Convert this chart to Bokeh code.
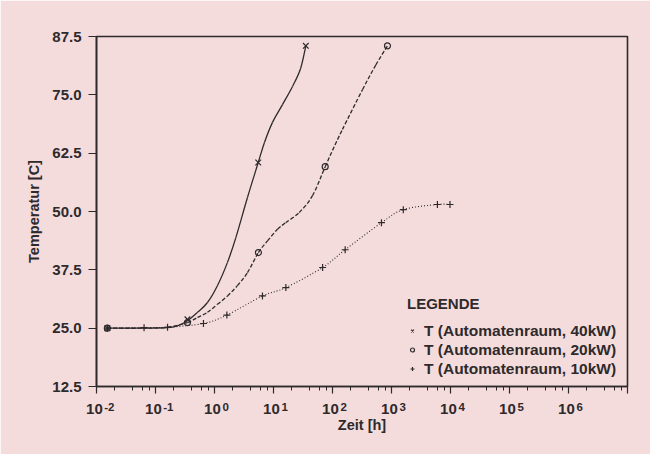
import numpy as np
from bokeh.plotting import figure
from bokeh.models import (FixedTicker, PrintfTickFormatter, Legend, LegendItem,
                          Range1d, ColumnDataSource, LogAxis)
from bokeh.embed import file_html
from bokeh.resources import INLINE

# ---------------- data ----------------
x_ticks = [1e-2, 1e-1, 1e0, 1e1, 1e2, 1e3, 1e4, 1e5, 1e6, 1e7]
x_tick_base = ["10", "10", "10", "10", "10", "10", "10", "10", "10", ""]
x_tick_exp = ["-2", "-1", "0", "1", "2", "3", "4", "5", "6", ""]
x_minor_mult = [2, 4, 6, 8]
y_ticks = [12.5, 25.0, 37.5, 50.0, 62.5, 75.0, 87.5]

labels = ["T (Automatenraum, 40kW)", "T (Automatenraum, 20kW)", "T (Automatenraum, 10kW)"]

# markers
t40_pts = [0.0153, 0.348, 5.51, 35.3]
T40_pts = [25.0, 26.9, 60.5, 85.5]
t20_pts = [0.0153, 0.348, 5.55, 75.2, 855]
T20_pts = [25.0, 26.2, 41.2, 59.6, 85.5]
t10_pts = [0.0153, 0.064, 0.16, 0.65, 1.62, 6.5, 16.2, 68, 164, 676, 1585, 6000, 9800]
T10_pts = [25.0, 25.1, 25.2, 26.0, 27.8, 31.9, 33.7, 38.0, 41.8, 47.6, 50.4, 51.5, 51.5]

# traced curves
t40_line = [0.0153, 0.060, 0.16, 0.236, 0.348, 0.515, 0.76, 1.12, 1.66, 2.30, 3.62,
            5.51, 7.03, 9.62, 14.2, 21.0, 28.7, 35.3]
T40_line = [25.0, 25.0, 25.1, 25.5, 26.6, 28.4, 30.5, 34.1, 39.1, 44.4, 53.0,
            60.5, 64.8, 69.1, 72.9, 76.8, 80.6, 85.5]
t20_line = [0.0153, 0.060, 0.16, 0.348, 0.515, 0.76, 1.12, 1.66, 2.44, 3.62, 5.55,
            7.91, 11.7, 16.1, 27.3, 45.8, 75.2, 100, 147.6, 322, 542, 855]
T20_line = [25.0, 25.0, 25.2, 26.2, 27.3, 28.4, 30.1, 31.9, 34.1, 36.9, 41.2,
            43.7, 46.2, 47.6, 49.8, 53.4, 59.6, 63.1, 67.6, 76.1, 81.4, 85.5]
t10_line = t10_pts
T10_line = T10_pts

# ---------------- styling ----------------
BG = "#f5dcdc"
INK = "#2e2a2c"
FONT = "Liberation Sans"
NBSP = "\u00a0"


def bezier_source(ts, Ts):
    lx = np.log10(np.asarray(ts, dtype=float))
    y = np.asarray(Ts, dtype=float)
    P = np.column_stack([lx, y])
    E = np.vstack([P[0], P, P[-1]])
    d = dict(x0=[], y0=[], x1=[], y1=[], cx0=[], cy0=[], cx1=[], cy1=[])
    for i in range(len(P) - 1):
        p0, p1, p2, p3 = E[i], E[i + 1], E[i + 2], E[i + 3]
        c1 = p1 + (p2 - p0) / 6.0
        c2 = p2 - (p3 - p1) / 6.0
        d["x0"].append(10 ** p1[0]); d["y0"].append(p1[1])
        d["x1"].append(10 ** p2[0]); d["y1"].append(p2[1])
        d["cx0"].append(10 ** c1[0]); d["cy0"].append(c1[1])
        d["cx1"].append(10 ** c2[0]); d["cy1"].append(c2[1])
    return ColumnDataSource(d)


p = figure(width=650, height=454, x_axis_type="log",
           x_range=Range1d(x_ticks[0], x_ticks[-1]),
           y_range=Range1d(y_ticks[0], y_ticks[-1]),
           output_backend="svg", toolbar_location=None,
           min_border_left=96, min_border_right=23,
           min_border_top=36, min_border_bottom=68)

p.background_fill_color = BG
p.border_fill_color = BG
p.outline_line_color = INK
p.outline_line_width = 1.6
p.xgrid.visible = False
p.ygrid.visible = False

# x axis (ticks + the "10" of each label)
minor = [m * t for t in x_ticks[:-1] for m in x_minor_mult]
p.xaxis.ticker = FixedTicker(ticks=x_ticks, minor_ticks=minor)
p.xaxis.major_label_overrides = {t: (lab + NBSP if lab else "")
                                 for t, lab in zip(x_ticks, x_tick_base)}
p.xaxis.major_tick_out = 7
p.xaxis.major_tick_in = 0
p.xaxis.minor_tick_out = 4
p.xaxis.minor_tick_in = 0

# y axis
p.yaxis.ticker = FixedTicker(ticks=y_ticks, minor_ticks=[])
p.yaxis.formatter = PrintfTickFormatter(format="%.1f")
p.yaxis.axis_label = "Temperatur [C]"
p.yaxis.major_tick_out = 8
p.yaxis.major_tick_in = 0

for ax in (p.xaxis, p.yaxis):
    ax.axis_line_color = INK
    ax.axis_line_width = 1.6
    ax.major_tick_line_color = INK
    ax.major_tick_line_width = 1.2
    ax.minor_tick_line_color = INK
    ax.minor_tick_line_width = 1.0
    ax.major_label_text_font = FONT
    ax.major_label_text_font_style = "bold"
    ax.major_label_text_font_size = "15px"
    ax.major_label_text_color = INK
    ax.major_label_standoff = 7
    ax.axis_label_text_font = FONT
    ax.axis_label_text_font_style = "bold"
    ax.axis_label_text_font_size = "14.5px"
    ax.axis_label_text_color = INK
    ax.axis_label_standoff = 7
p.xaxis.major_label_standoff = 6


def exp_label(e):
    if not e:
        return ""
    pad = 8 if e.startswith("-") else 7
    return NBSP * pad + e


# second axis below: the exponents (raised) and the axis title
ax2 = LogAxis(ticker=FixedTicker(ticks=x_ticks, minor_ticks=[]),
              major_label_overrides={t: exp_label(e) for t, e in zip(x_ticks, x_tick_exp)},
              axis_line_alpha=0, major_tick_line_alpha=0, minor_tick_line_alpha=0,
              major_tick_out=0, major_tick_in=0, minor_tick_out=0, minor_tick_in=0,
              major_label_standoff=-19,
              major_label_text_font=FONT, major_label_text_font_style="bold",
              major_label_text_font_size="11.5px", major_label_text_color=INK,
              axis_label="Zeit [h]", axis_label_text_font=FONT,
              axis_label_text_font_style="bold", axis_label_text_font_size="14.5px",
              axis_label_text_color=INK, axis_label_standoff=1)
p.add_layout(ax2, "below")

# curves
p.bezier("x0", "y0", "x1", "y1", "cx0", "cy0", "cx1", "cy1",
         source=bezier_source(t40_line, T40_line), line_color=INK, line_width=1.3)
p.bezier("x0", "y0", "x1", "y1", "cx0", "cy0", "cx1", "cy1",
         source=bezier_source(t20_line, T20_line), line_color=INK, line_width=1.3,
         line_dash="4 2")
p.bezier("x0", "y0", "x1", "y1", "cx0", "cy0", "cx1", "cy1",
         source=bezier_source(t10_line, T10_line), line_color=INK, line_width=1.1,
         line_dash="1 2")

# markers
r40 = p.scatter(t40_pts, T40_pts, marker="x", size=8, line_color=INK, line_width=1.2)
r20 = p.scatter(t20_pts, T20_pts, marker="circle", size=6, line_color=INK,
                fill_color=None, line_width=1.2)
r10 = p.scatter(t10_pts, T10_pts, marker="cross", size=7, line_color=INK, line_width=1.2)

legend = Legend(items=[LegendItem(label=labels[0], renderers=[r40]),
                       LegendItem(label=labels[1], renderers=[r20]),
                       LegendItem(label=labels[2], renderers=[r10])],
                location=(311, 8))
legend.title = "LEGENDE"
legend.title_text_font = FONT
legend.title_text_font_style = "bold"
legend.title_text_font_size = "15px"
legend.title_text_color = INK
legend.title_standoff = 9
legend.label_text_font = FONT
legend.label_text_font_style = "bold"
legend.label_text_font_size = "15.5px"
legend.label_text_color = INK
legend.label_standoff = 7
legend.label_height = 19
legend.glyph_height = 19
legend.glyph_width = 10
legend.spacing = 0
legend.padding = 0
legend.margin = 0
legend.border_line_alpha = 0
legend.background_fill_alpha = 0
p.add_layout(legend)

open("out.html", "w").write(file_html(p, INLINE))
